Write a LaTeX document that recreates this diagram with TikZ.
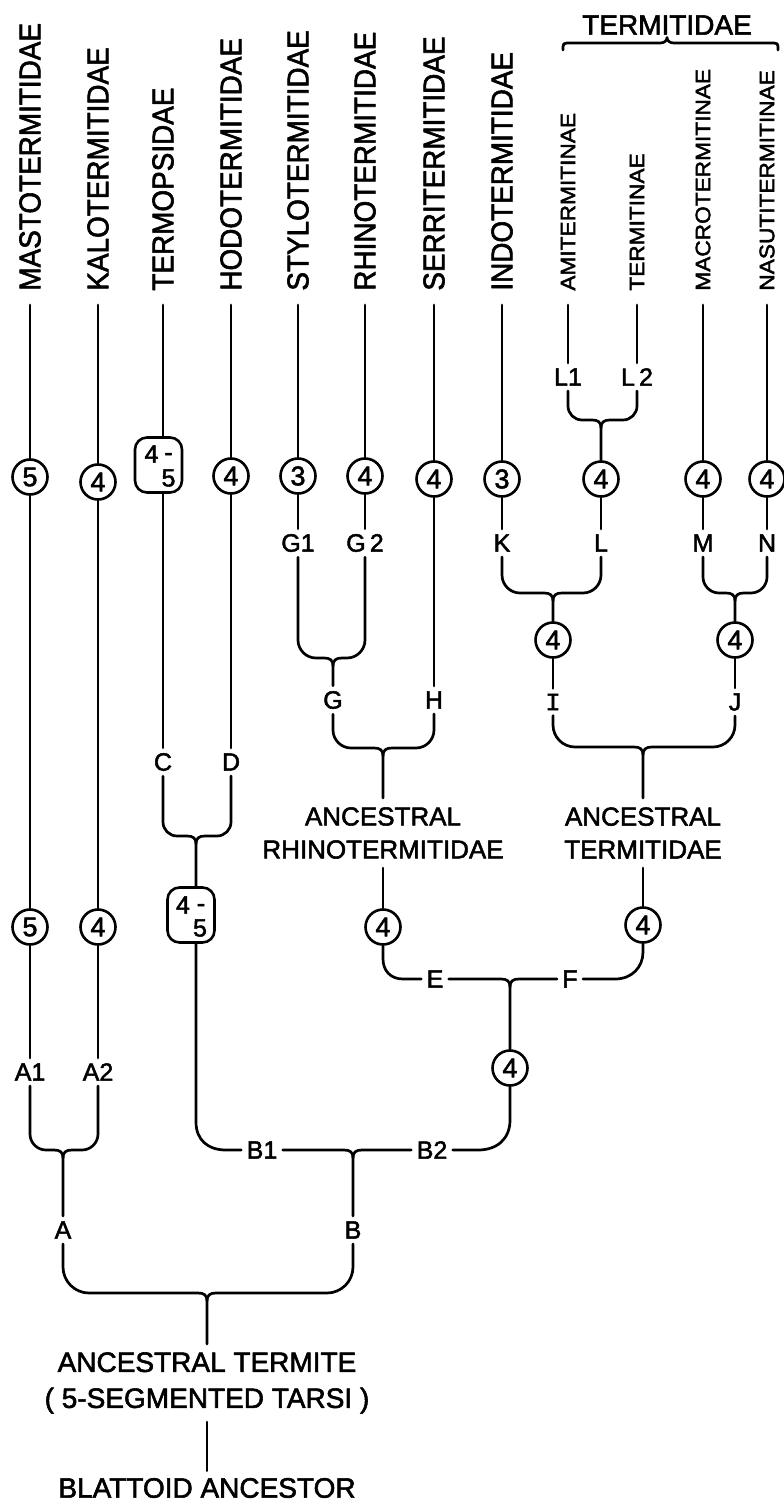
\documentclass[tikz,border=0pt]{standalone}
\usepackage{fontspec}
\setmainfont{Liberation Sans}[FakeBold=2]
\newfontfamily\monof{Liberation Mono}[FakeBold=2]
\newcommand\famtxt[1]{\scalebox{0.93}[1]{#1}}
\newcommand\subtxt[1]{\scalebox{1.08}[1]{#1}}
\newcommand\forkpath[8]{%
  \draw (#1) -- (#2,#6-#7) .. controls (#2,#6-0.45*#7) and (#2+0.45*#7,#6) .. (#2+#7,#6)
     -- (#5-9,#6) .. controls (#5-3,#6) and (#5,#6+2) .. (#5,#6+8) -- (#8);
  \draw (#3) -- (#4,#6-#7) .. controls (#4,#6-0.45*#7) and (#4-0.45*#7,#6) .. (#4-#7,#6)
     -- (#5+9,#6) .. controls (#5+3,#6) and (#5,#6+2) .. (#5,#6+8);
}
\begin{document}
\begin{tikzpicture}[x=0.5pt,y=-0.5pt,line width=1.35pt,line cap=round,line join=round,
  famlbl/.style={rotate=90,anchor=west,inner xsep=6.5pt,inner ysep=0pt,font=\fontsize{15}{18}\selectfont},
  sublbl/.style={famlbl,font=\fontsize{10.5}{12}\selectfont},
  numc/.style={circle,draw,line width=1.3pt,minimum size=17.5pt,inner sep=0pt,font=\fontsize{13.5}{14}\selectfont},
  rngbox/.style={draw,line width=1.3pt,rounded corners=6pt,minimum width=23.5pt,minimum height=27.5pt,inner sep=0pt},
  boxdig/.style={inner sep=0pt,font=\fontsize{12.5}{14}\selectfont},
  ltr/.style={inner sep=2pt,font=\fontsize{12.5}{14}\selectfont},
  ancl/.style={align=center,inner sep=4pt,font=\fontsize{13}{16.5}\selectfont},
  rootl/.style={align=center,inner sep=3.5pt,font=\fontsize{14}{18}\selectfont}]
\useasboundingbox (0,0) rectangle (783,1503);

% top labels
\node[famlbl] (t1) at (30,305) {\famtxt{MASTOTERMITIDAE}};
\node[famlbl] (t2) at (98,305) {\famtxt{KALOTERMITIDAE}};
\node[famlbl] (t3) at (163,305) {\famtxt{TERMOPSIDAE}};
\node[famlbl] (t4) at (231,305) {\famtxt{HODOTERMITIDAE}};
\node[famlbl] (t5) at (298,305) {\famtxt{STYLOTERMITIDAE}};
\node[famlbl] (t6) at (365,305) {\famtxt{RHINOTERMITIDAE}};
\node[famlbl] (t7) at (434,305) {\famtxt{SERRITERMITIDAE}};
\node[famlbl] (t8) at (502,305) {\famtxt{INDOTERMITIDAE}};
\node[sublbl] (t9) at (568,305) {\subtxt{AMITERMITINAE}};
\node[sublbl] (t10) at (637,305) {\subtxt{TERMITINAE}};
\node[sublbl] (t11) at (703,305) {\subtxt{MACROTERMITINAE}};
\node[sublbl] (t12) at (767,305) {\subtxt{NASUTITERMITINAE}};

\node[inner sep=0pt,font=\fontsize{14}{16}\selectfont] (tfam) at (667,25) {TERMITIDAE};
\draw (563,50) -- (563,46.5) .. controls (563,44) and (564,43) .. (567,43) -- (660,43)
  .. controls (664,43) and (667,41) .. (667,37.5) .. controls (667,41) and (670,43) .. (674,43)
  -- (774,43) .. controls (777,43) and (778,44) .. (778,46.5) -- (778,50);

% upper circles
\node[numc] (u1) at (30,477) {5};
\node[numc] (u2) at (98,482) {4};
\node[rngbox] (u3) at (158.5,465) {};
\node[numc] (u4) at (231,476) {4};
\node[numc] (u5) at (298,476) {3};
\node[numc] (u6) at (365,476) {4};
\node[numc] (u7) at (434,479) {4};
\node[numc] (u8) at (502,479) {3};
\node[numc] (uL) at (601,479) {4};
\node[numc] (u11) at (703,479) {4};
\node[numc] (u12) at (767,479) {4};
\node[boxdig] at ([shift={(-7,-11)}]u3.center) {4};
\node[boxdig] at ([shift={(10,-8)}]u3.center) {-};
\node[boxdig] at ([shift={(10,13)}]u3.center) {5};

% letters
\node[ltr] (L1) at (568,377) {L1};
\node[ltr] (L2) at (637,377) {L\,2};
\node[ltr] (G1) at (298,543) {G1};
\node[ltr] (G2) at (365,543) {G\,2};
\node[ltr] (K) at (502,543) {K};
\node[ltr] (L) at (601,543) {L};
\node[ltr] (M) at (703,543) {M};
\node[ltr] (N) at (767,543) {N};
\node[numc] (I4) at (553,640) {4};
\node[numc] (J4) at (735,640) {4};
\node[ltr] (G) at (333,700) {G};
\node[ltr] (H) at (434,700) {H};
\node[ltr] (I) at (553,702) {\monof I};
\node[ltr] (J) at (735,702) {J};
\node[ltr] (C) at (163,762) {C};
\node[ltr] (D) at (231,762) {D};
\node[ancl] (ancR) at (383,833) {ANCESTRAL\\RHINOTERMITIDAE};
\node[ancl] (ancT) at (643,833) {ANCESTRAL\\TERMITIDAE};

% lower circles
\node[numc] (l1) at (30,927) {5};
\node[numc] (l2) at (98,927) {4};
\node[rngbox] (lb) at (191,915) {};
\node[boxdig] at ([shift={(-8,-10)}]lb.center) {4};
\node[boxdig] at ([shift={(10,-7)}]lb.center) {-};
\node[boxdig] at ([shift={(9,13)}]lb.center) {5};
\node[numc] (r4) at (383,927) {4};
\node[numc] (f4) at (643,925) {4};
\node[ltr] (E) at (435,979) {E};
\node[ltr] (F) at (570,979) {F};
\node[numc] (m4) at (510,1068) {4};
\node[ltr] (A1) at (30,1072) {A1};
\node[ltr] (A2) at (98,1072) {A2};
\node[ltr] (B1) at (262,1150) {B1};
\node[ltr] (B2) at (432,1150) {B2};
\node[ltr] (A) at (63,1230) {A};
\node[ltr] (B) at (353,1230) {B};
\node[rootl] (root) at (207,1383) {ANCESTRAL TERMITE\\( 5-SEGMENTED TARSI )};
\node[rootl,inner sep=3pt] (blat) at (207,1488) {BLATTOID ANCESTOR};

% connectors
\draw (t1.west) -- (u1) -- (l1) -- (A1);
\draw (t2.west) -- (u2) -- (l2) -- (A2);
\draw (t3.west) -- (t3.west |- u3.north);
\draw (t3.west |- u3.south) -- (C);
\draw (t4.west) -- (u4) -- (D);
\draw (t5.west) -- (u5) -- (G1);
\draw (t6.west) -- (u6) -- (G2);
\draw (t7.west) -- (u7) -- (H);
\draw (t8.west) -- (u8) -- (K);
\draw (t9.west) -- (L1);
\draw (t10.west) -- (L2);
\draw (t11.west) -- (u11) -- (M);
\draw (t12.west) -- (u12) -- (N);
\forkpath{L1.south}{568}{L2.south}{637}{601}{420}{14}{uL}
\draw (uL) -- (L);
\forkpath{K.south}{502}{L.south}{601}{553}{593}{18}{I4}
\forkpath{M.south}{703}{N.south}{767}{735}{593}{16}{J4}
\draw (I4) -- (I);
\draw (J4) -- (J);
\forkpath{I.south}{553}{J.south}{735}{643}{747}{22}{ancT}
\forkpath{G1.south}{298}{G2.south}{365}{333}{658}{18}{G}
\forkpath{G.south}{333}{H.south}{434}{383}{748}{18}{ancR}
\forkpath{C.south}{163}{D.south}{231}{196}{836}{14}{lb.north -| 196,0}
\draw (ancR) -- (r4);
\draw (ancT) -- (f4);
\draw (r4) -- (383,959) .. controls (383,970) and (390,979) .. (403,979) -- (E);
\draw (E) -- (501,979) .. controls (507,979) and (510,981) .. (510,987) -- (m4);
\draw (f4) -- (643,952) .. controls (643,967) and (632,979) .. (615,979) -- (F);
\draw (F) -- (519,979) .. controls (513,979) and (510,981) .. (510,987);
\draw (lb.south -| 196,0) -- (196,1122) .. controls (196,1140) and (208,1150) .. (226,1150) -- (B1);
\draw (B1) -- (344,1150) .. controls (350,1150) and (353,1152) .. (353,1158) -- (B);
\draw (m4) -- (510,1120) .. controls (510,1139) and (497,1150) .. (478,1150) -- (B2);
\draw (B2) -- (362,1150) .. controls (356,1150) and (353,1152) .. (353,1158);
\forkpath{A1.south}{30}{A2.south}{98}{63}{1150}{16}{A}
\forkpath{A.south}{63}{B.south}{353}{207}{1293}{26}{root}
\draw (root) -- (blat);
\end{tikzpicture}
\end{document}
